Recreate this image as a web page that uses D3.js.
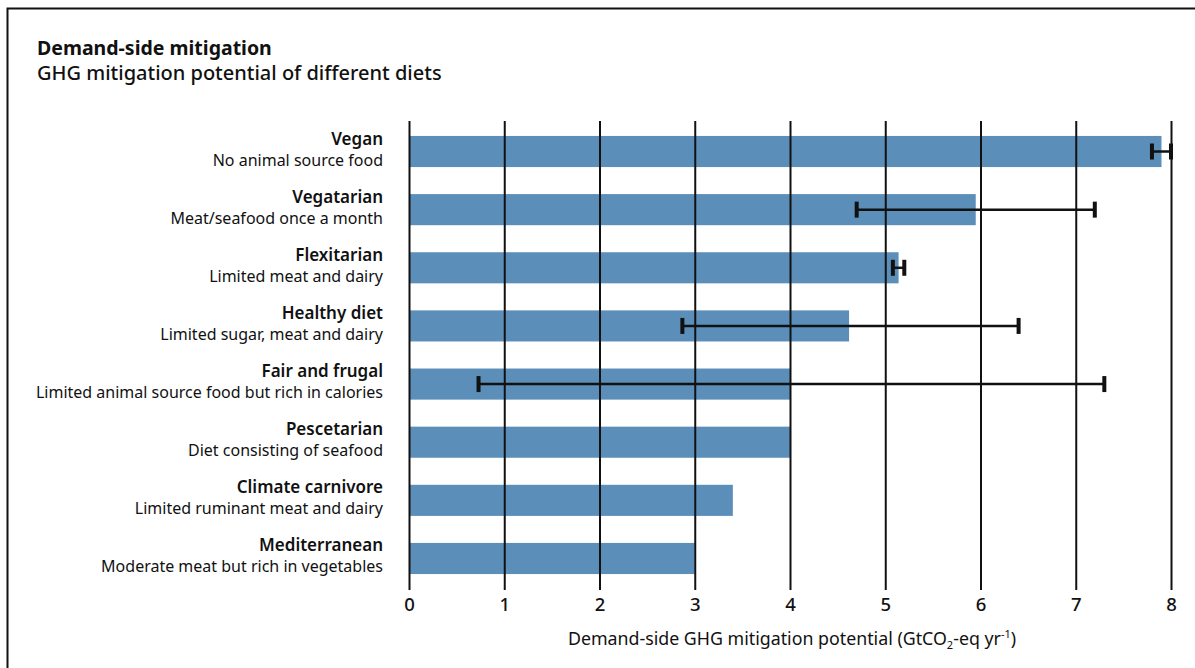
<!DOCTYPE html>
<html>
<head>
<meta charset="utf-8">
<script src="https://cdn.jsdelivr.net/npm/d3@7"></script>
<style>
  html, body { margin: 0; padding: 0; background: #fff; }
  svg { display: block; font-family: "Noto Sans", "Open Sans", sans-serif; }
</style>
</head>
<body>
<svg id="chart" width="1195" height="668"></svg>
<script>
// Diet categories, top to bottom
const diets = ["Vegan", "Vegatarian", "Flexitarian", "Healthy diet", "Fair and frugal",
               "Pescetarian", "Climate carnivore", "Mediterranean"];
const descriptions = ["No animal source food", "Meat/seafood once a month", "Limited meat and dairy",
                      "Limited sugar, meat and dairy", "Limited animal source food but rich in calories",
                      "Diet consisting of seafood", "Limited ruminant meat and dairy",
                      "Moderate meat but rich in vegetables"];
// Mitigation potential (GtCO2-eq per year)
const potential = [7.9, 5.95, 5.14, 4.62, 4.0, 4.0, 3.4, 3.0];
// Ranges (null where no range is given)
const rangeLow  = [7.8, 4.7, 5.08, 2.87, 0.73, null, null, null];
const rangeHigh = [8.0, 7.2, 5.2, 6.4, 7.3, null, null, null];
const xTicks = [0, 1, 2, 3, 4, 5, 6, 7, 8];

const svg = d3.select("#chart");
const W = 1195, H = 668;

// Outer frame
svg.append("path")
  .attr("d", `M7.5,${H + 2} V8.5 H${W + 2}`)
  .attr("fill", "none").attr("stroke", "#111").attr("stroke-width", 2);

// Titles
svg.append("text").attr("x", 37).attr("y", 55)
  .attr("font-size", 19.5).attr("font-weight", 700).attr("fill", "#111")
  .text("Demand-side mitigation");
svg.append("text").attr("x", 37).attr("y", 80)
  .attr("font-size", 20).attr("font-weight", 500).attr("fill", "#111")
  .text("GHG mitigation potential of different diets");

const x = d3.scaleLinear().domain([0, 8]).range([409, 1171]);
const y = d3.scaleBand().domain(diets).range([122, 588]).paddingInner(0.465).paddingOuter(0.24);

const data = diets.map((d, i) => ({
  name: d, desc: descriptions[i], value: potential[i], lo: rangeLow[i], hi: rangeHigh[i]
}));

// Bars
svg.append("g").selectAll("rect").data(data).join("rect")
  .attr("x", x(0))
  .attr("y", d => y(d.name))
  .attr("width", d => x(d.value) - x(0))
  .attr("height", y.bandwidth())
  .attr("fill", "#5b8fba");

// Vertical gridlines over the bars, extending into tick marks
const axis = d3.axisBottom(x).tickValues(xTicks).tickSize(469).tickPadding(8).tickFormat(d3.format("d"));
const gAxis = svg.append("g").attr("transform", "translate(0,121)").call(axis);
gAxis.select(".domain").remove();
gAxis.selectAll(".tick line").attr("stroke", "#111").attr("stroke-width", 2);
gAxis.selectAll(".tick text").attr("font-size", 18.5).attr("font-weight", 500).attr("fill", "#111")
  .attr("font-family", "'Noto Sans', sans-serif").attr("dy", "0.72em");

// Error bars
const err = svg.append("g").selectAll("g").data(data.filter(d => d.lo !== null)).join("g")
  .attr("transform", d => `translate(0,${y(d.name) + y.bandwidth() / 2})`);
err.append("line").attr("x1", d => x(d.lo)).attr("x2", d => x(d.hi))
  .attr("stroke", "#111").attr("stroke-width", 2.5);
err.append("line").attr("x1", d => x(d.lo)).attr("x2", d => x(d.lo))
  .attr("y1", -8).attr("y2", 8).attr("stroke", "#111").attr("stroke-width", 4);
err.append("line").attr("x1", d => x(d.hi)).attr("x2", d => x(d.hi))
  .attr("y1", -8).attr("y2", 8).attr("stroke", "#111").attr("stroke-width", 4);

// Category labels
const lab = svg.append("g").selectAll("g").data(data).join("g")
  .attr("transform", d => `translate(383,${y(d.name) + y.bandwidth() / 2})`)
  .attr("text-anchor", "end").attr("fill", "#111");
lab.append("text").attr("y", -7).attr("font-size", 17).attr("font-weight", 600).text(d => d.name);
lab.append("text").attr("y", 14).attr("font-size", 16).text(d => d.desc);

// Axis title with sub/superscript
const t = svg.append("text").attr("x", 792).attr("y", 645).attr("text-anchor", "middle")
  .attr("font-size", 17.8).attr("fill", "#111");
t.append("tspan").text("Demand-side GHG mitigation potential (GtCO");
t.append("tspan").attr("font-size", 11).attr("dy", 4).text("2");
t.append("tspan").attr("dy", -4).text("-eq yr");
t.append("tspan").attr("font-size", 11).attr("dy", -7).text("-1");
t.append("tspan").attr("dy", 7).text(")");
</script>
</body>
</html>
